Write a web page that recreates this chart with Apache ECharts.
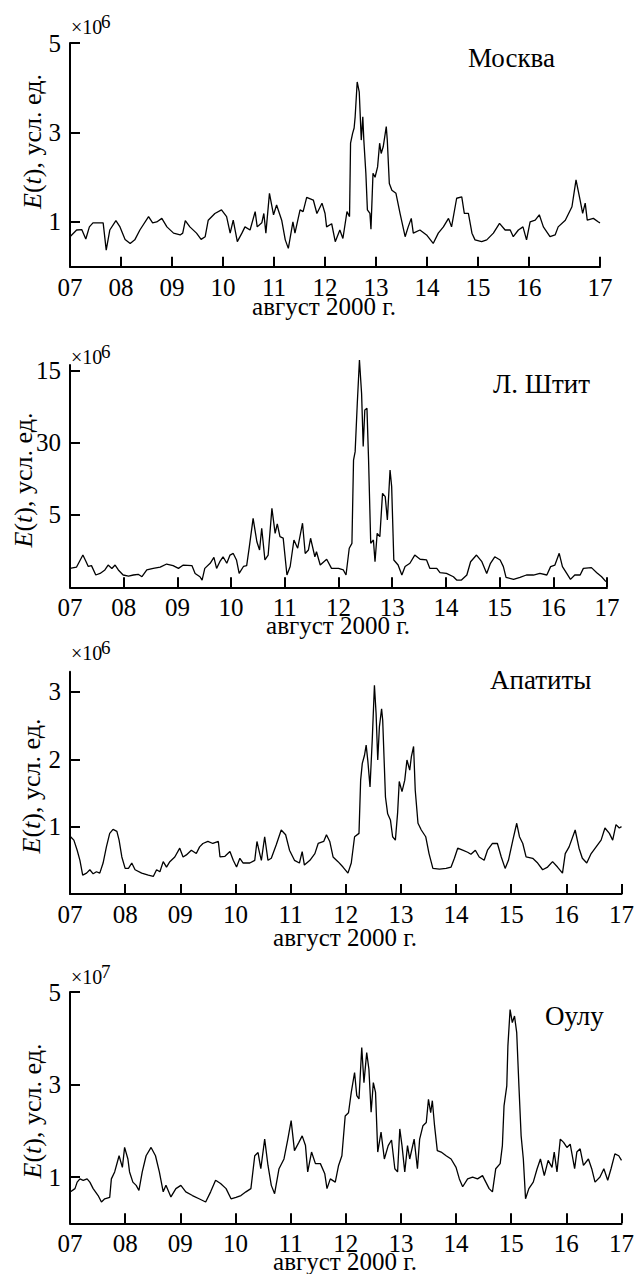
<!DOCTYPE html>
<html><head><meta charset="utf-8">
<script src="https://cdn.jsdelivr.net/npm/echarts@6/dist/echarts.min.js"></script>
<style>html,body{margin:0;padding:0;background:#fff}#c{width:637px;height:1274px}</style>
</head><body><div id="c"></div><script>
// ---------- data ----------
const dayLabels = ['07','08','09','10','11','12','13','14','15','16','17'];
const dayTicks = [7,8,9,10,11,12,13,14,15,16,17];
const moscowDayTicks = [7,8,9,10,11,12,13,14,15,16,17.39];
const xAxisTitle = 'август 2000 г.';
const yAxisTitle = '{i|E}({i|t}), усл. ед.';
const stations = ['Москва','Л. Штит','Апатиты','Оулу'];
const multipliers = ['6','6','6','7'];

const moscowYTicks = [1,3,5];   const moscowYLabels = ['1','3','5'];
const stitYTicks = [5,10,15];   const stitYLabels = ['5','30','15'];
const apatityYTicks = [1,2,3];  const apatityYLabels = ['1','2','3'];
const ouluYTicks = [1,3,5];     const ouluYLabels = ['1','3','5'];

const moscowT = [7.00,7.13,7.23,7.31,7.38,7.45,7.65,7.71,7.78,7.90,7.98,8.08,8.18,8.27,8.37,8.54,8.62,8.70,8.80,8.90,9.03,9.16,9.21,9.26,9.35,9.48,9.57,9.65,9.71,9.84,9.97,10.07,10.14,10.20,10.28,10.37,10.43,10.53,10.63,10.67,10.76,10.80,10.84,10.91,10.99,11.05,11.15,11.22,11.28,11.37,11.41,11.51,11.57,11.64,11.77,11.84,11.94,12.00,12.03,12.13,12.20,12.29,12.35,12.43,12.48,12.50,12.54,12.57,12.59,12.63,12.67,12.71,12.74,12.76,12.80,12.83,12.88,12.90,12.94,12.98,13.03,13.07,13.10,13.14,13.20,13.22,13.26,13.31,13.39,13.47,13.57,13.63,13.69,13.73,13.86,13.99,14.12,14.22,14.32,14.42,14.48,14.58,14.68,14.73,14.81,14.88,14.94,15.07,15.17,15.30,15.42,15.53,15.63,15.69,15.79,15.88,15.95,16.02,16.12,16.20,16.28,16.41,16.51,16.57,16.71,16.84,16.92,17.00,17.05,17.10,17.14,17.26,17.36,17.39];
const moscowV = [0.67,0.82,0.83,0.62,0.89,0.98,0.98,0.37,0.82,1.03,0.89,0.61,0.52,0.60,0.82,1.12,0.98,1.00,1.08,0.89,0.75,0.71,0.75,1.03,0.89,0.75,0.61,0.67,1.04,1.19,1.27,1.12,0.75,1.04,0.56,0.75,0.89,0.82,1.23,0.89,0.98,1.19,0.75,1.64,1.16,1.38,1.04,0.60,0.41,1.00,0.75,1.27,1.23,1.55,1.49,1.19,1.42,1.19,0.89,0.96,0.56,0.82,0.63,1.23,1.12,2.76,2.98,3.10,3.35,4.13,3.91,2.83,3.35,2.83,2.09,1.27,1.19,0.84,2.09,2.00,2.23,2.76,2.53,2.68,3.13,2.83,1.86,1.71,1.64,1.19,0.67,0.89,1.08,0.75,0.82,0.71,0.52,0.75,0.89,1.08,0.89,1.53,1.56,1.19,1.19,0.75,0.60,0.56,0.60,0.75,0.97,0.82,0.82,0.67,0.82,0.89,0.60,1.00,1.04,1.16,0.89,0.67,0.71,0.89,1.04,1.34,1.94,1.49,1.19,1.42,1.04,1.08,1.00,0.98];

const stitT = [7.00,7.12,7.24,7.30,7.34,7.40,7.48,7.56,7.65,7.71,7.78,7.84,7.90,7.99,8.09,8.18,8.27,8.34,8.43,8.55,8.68,8.80,8.92,9.02,9.11,9.27,9.33,9.42,9.46,9.51,9.61,9.68,9.73,9.79,9.85,9.92,9.98,10.04,10.10,10.15,10.23,10.29,10.34,10.41,10.48,10.53,10.57,10.63,10.69,10.76,10.82,10.86,10.91,10.97,11.04,11.10,11.17,11.24,11.33,11.38,11.44,11.48,11.56,11.59,11.66,11.78,11.87,12.00,12.09,12.14,12.20,12.25,12.28,12.31,12.35,12.39,12.43,12.46,12.49,12.53,12.56,12.60,12.65,12.68,12.72,12.77,12.82,12.87,12.91,12.96,12.99,13.03,13.11,13.18,13.24,13.33,13.42,13.52,13.64,13.70,13.83,13.89,14.01,14.14,14.20,14.29,14.39,14.46,14.57,14.67,14.76,14.83,14.91,15.01,15.07,15.12,15.26,15.38,15.50,15.63,15.75,15.88,15.95,16.03,16.11,16.17,16.25,16.32,16.40,16.50,16.56,16.71,16.81,16.90,16.98];
const stitV = [1.31,1.39,2.23,1.77,1.44,1.50,0.85,0.96,1.20,1.54,1.30,1.54,1.20,0.85,0.78,0.85,0.90,0.73,1.20,1.31,1.39,1.61,1.50,1.31,1.54,1.50,0.96,0.73,0.50,1.31,1.66,2.07,1.31,1.77,2.11,1.66,2.23,2.34,1.89,0.96,1.44,1.50,2.81,4.77,3.15,2.58,4.08,1.89,2.23,5.46,3.73,4.38,3.50,3.40,0.85,1.44,3.27,2.70,4.43,2.34,2.58,3.39,2.11,2.46,1.54,1.94,1.31,1.31,1.20,0.85,2.70,3.04,8.80,9.38,12.72,15.72,13.40,9.73,12.26,12.37,8.80,3.04,3.27,1.77,3.73,3.50,6.50,6.27,4.65,8.11,6.96,1.89,1.54,0.85,1.44,1.66,2.23,1.94,1.89,1.31,1.31,1.01,0.96,0.73,0.50,0.50,0.85,1.77,2.23,1.77,0.96,1.66,2.11,1.89,1.43,0.69,0.55,0.69,0.85,0.85,0.96,0.85,1.43,1.54,2.35,1.43,0.96,0.55,0.85,0.85,1.31,1.36,1.01,0.73,0.39];

const apatityT = [7.01,7.07,7.13,7.18,7.23,7.30,7.36,7.42,7.48,7.54,7.60,7.66,7.72,7.78,7.85,7.89,7.94,8.00,8.06,8.12,8.18,8.30,8.42,8.51,8.57,8.63,8.69,8.75,8.81,8.90,8.99,9.05,9.11,9.20,9.29,9.35,9.41,9.50,9.59,9.69,9.72,9.81,9.90,9.96,10.02,10.08,10.14,10.26,10.35,10.39,10.44,10.47,10.53,10.59,10.65,10.74,10.83,10.91,10.98,11.07,11.16,11.21,11.25,11.35,11.44,11.50,11.60,11.65,11.71,11.77,11.86,11.95,12.04,12.10,12.16,12.24,12.27,12.30,12.34,12.37,12.40,12.44,12.48,12.52,12.55,12.58,12.61,12.65,12.67,12.72,12.76,12.81,12.85,12.90,12.94,12.97,13.02,13.07,13.11,13.16,13.19,13.23,13.26,13.31,13.37,13.45,13.51,13.58,13.70,13.82,13.91,13.97,14.03,14.12,14.21,14.27,14.35,14.42,14.51,14.57,14.66,14.75,14.82,14.89,14.95,15.03,15.10,15.15,15.21,15.27,15.39,15.48,15.57,15.66,15.75,15.84,15.93,15.98,16.05,16.16,16.23,16.29,16.37,16.45,16.54,16.63,16.70,16.78,16.84,16.90,16.96,17.00];
const apatityV = [0.85,0.80,0.65,0.50,0.28,0.31,0.36,0.30,0.33,0.31,0.46,0.70,0.90,0.96,0.93,0.80,0.55,0.38,0.38,0.46,0.36,0.31,0.28,0.26,0.36,0.33,0.48,0.40,0.48,0.55,0.68,0.55,0.58,0.65,0.60,0.70,0.75,0.78,0.75,0.78,0.55,0.56,0.63,0.50,0.40,0.53,0.46,0.46,0.50,0.78,0.60,0.50,0.85,0.50,0.53,0.73,0.95,0.88,0.65,0.50,0.46,0.63,0.43,0.50,0.60,0.75,0.78,0.88,0.78,0.55,0.48,0.40,0.31,0.46,0.85,0.90,1.69,1.94,2.06,2.21,1.98,1.59,2.28,3.10,2.68,1.99,2.48,2.75,2.58,1.44,1.19,1.10,0.85,0.80,1.20,1.67,1.52,1.69,1.99,1.84,2.04,2.19,1.54,1.05,0.95,0.85,0.60,0.38,0.37,0.38,0.40,0.53,0.68,0.65,0.62,0.59,0.65,0.55,0.50,0.65,0.75,0.75,0.55,0.38,0.50,0.80,1.05,0.85,0.75,0.55,0.53,0.46,0.36,0.40,0.48,0.40,0.31,0.60,0.70,0.95,0.68,0.53,0.46,0.60,0.70,0.80,0.98,0.90,0.80,1.03,0.98,1.00];

const ouluT = [7.01,7.09,7.13,7.18,7.24,7.31,7.36,7.42,7.51,7.57,7.63,7.72,7.75,7.81,7.89,7.95,7.99,8.05,8.08,8.14,8.20,8.25,8.31,8.38,8.47,8.55,8.62,8.69,8.74,8.83,8.92,9.01,9.10,9.22,9.34,9.46,9.55,9.64,9.73,9.83,9.92,10.01,10.10,10.19,10.28,10.35,10.41,10.46,10.53,10.59,10.65,10.71,10.79,10.88,10.95,11.01,11.07,11.15,11.21,11.27,11.31,11.38,11.45,11.54,11.62,11.66,11.72,11.81,11.87,11.93,11.99,12.05,12.10,12.16,12.20,12.24,12.29,12.33,12.38,12.42,12.46,12.50,12.54,12.58,12.64,12.70,12.77,12.83,12.89,12.94,12.98,13.02,13.07,13.12,13.16,13.24,13.30,13.34,13.40,13.46,13.50,13.54,13.57,13.61,13.66,13.73,13.82,13.91,14.00,14.06,14.12,14.21,14.30,14.39,14.48,14.54,14.60,14.66,14.72,14.80,14.84,14.87,14.92,14.94,14.98,15.02,15.06,15.10,15.14,15.18,15.22,15.26,15.32,15.40,15.47,15.53,15.60,15.67,15.74,15.78,15.83,15.89,15.95,16.01,16.07,16.15,16.19,16.25,16.31,16.40,16.46,16.52,16.61,16.68,16.75,16.81,16.88,16.95,17.00];
const ouluV = [0.68,0.75,0.89,0.96,0.93,0.96,0.89,0.75,0.60,0.46,0.53,0.56,0.96,1.11,1.46,1.21,1.64,1.39,1.11,0.89,0.82,0.71,1.11,1.46,1.64,1.46,1.11,0.68,0.82,0.57,0.75,0.82,0.68,0.60,0.53,0.46,0.68,0.93,0.86,0.75,0.53,0.56,0.60,0.68,0.75,1.46,1.53,1.18,1.82,1.25,0.82,0.64,1.18,1.39,1.82,2.22,1.57,1.75,1.89,1.68,1.11,1.54,1.29,1.29,1.07,0.75,0.96,0.89,1.25,1.46,2.32,2.39,2.83,3.26,2.76,2.69,3.80,3.04,3.69,3.33,2.40,3.04,2.83,1.54,1.97,1.39,1.68,1.80,1.18,1.11,2.04,1.68,1.11,1.68,1.39,1.82,1.18,1.82,2.11,2.18,2.68,2.39,2.65,2.11,1.57,1.54,1.46,1.39,1.21,0.96,0.79,0.96,1.00,0.96,1.03,0.89,0.75,0.68,1.18,1.29,1.68,2.54,2.97,3.83,4.62,4.34,4.48,4.12,2.97,1.89,1.39,0.53,0.75,0.89,1.18,1.39,1.03,1.36,1.21,1.54,1.11,1.82,1.75,1.64,1.71,1.18,1.54,1.61,1.25,1.39,1.18,0.89,1.00,1.18,0.93,1.18,1.50,1.46,1.36];

// ---------- layout ----------
const FONT = '"Liberation Serif", "Times New Roman", serif';
const panels = [
  {t: moscowT, v: moscowV, xTicks: moscowDayTicks, xMax: 17.39, yMax: 5, yT: moscowYTicks, yL: moscowYLabels,
   grid: {left: 70, right: 37, top: 43, height: 223.7},
   name: [468, 57.5], mult: [26.5, 21.5], yName: [32, 141.5], xName: [324, 306]},
  {t: stitT, v: stitV, xTicks: dayTicks, xMax: 17, yMax: 15.37, yT: stitYTicks, yL: stitYLabels,
   grid: {left: 70, right: 30, top: 365, height: 222.3},
   name: [493, 384], mult: [356.5, 351.5], yName: [23, 480], xName: [338, 625]},
  {t: apatityT, v: apatityV, xTicks: dayTicks, xMax: 17, yMax: 3.3, yT: apatityYTicks, yL: apatityYLabels,
   grid: {left: 70, right: 15, top: 671.7, height: 222.3},
   name: [490, 680], mult: [653, 647.5], yName: [31, 786], xName: [345, 937.5]},
  {t: ouluT, v: ouluV, xTicks: dayTicks, xMax: 17, yMax: 5, yT: ouluYTicks, yL: ouluYLabels,
   grid: {left: 70, right: 12, top: 992, height: 231.3},
   name: [545, 1016], mult: [976.7, 971.5], yName: [32, 1111], xName: [345, 1261]}
];

const axisLine = {show: true, lineStyle: {color: '#000', width: 2}};
const grid = [], xAxis = [], yAxis = [], series = [], graphic = [];
panels.forEach((p, i) => {
  grid.push(Object.assign({containLabel: false}, p.grid));
  xAxis.push({
    type: 'value', gridIndex: i, min: 7, max: p.xMax,
    axisLine, splitLine: {show: false},
    axisTick: {show: true, inside: true, length: 10, lineStyle: {color: '#000', width: 2}, customValues: p.xTicks},
    axisLabel: {customValues: p.xTicks, margin: 8, color: '#000', fontFamily: FONT, fontSize: 25,
      formatter: v => { const k = p.xTicks.findIndex(x => Math.abs(x - v) < 1e-6); return k >= 0 ? dayLabels[k] : ''; }}
  });
  yAxis.push({
    type: 'value', gridIndex: i, min: 0, max: p.yMax,
    axisLine, splitLine: {show: false},
    axisTick: {show: true, inside: true, length: 10, lineStyle: {color: '#000', width: 2}, customValues: p.yT},
    axisLabel: {customValues: p.yT, margin: 9, color: '#000', fontFamily: FONT, fontSize: 25,
      formatter: v => { const k = p.yT.findIndex(x => Math.abs(x - v) < 1e-6); return k >= 0 ? p.yL[k] : ''; }}
  });
  series.push({
    type: 'line', xAxisIndex: i, yAxisIndex: i, showSymbol: false, clip: false,
    lineStyle: {color: '#000', width: 1.3}, animation: false,
    data: p.t.map((t, j) => [t, p.v[j]])
  });
  graphic.push({type: 'text', x: p.name[0], y: p.name[1],
    style: {text: stations[i], fontFamily: FONT, fontSize: 27, fill: '#000', align: 'left', verticalAlign: 'middle'}});
  graphic.push({type: 'text', x: 71, y: p.mult[0],
    style: {text: '×10', fontFamily: FONT, fontSize: 20, fill: '#000', align: 'left', verticalAlign: 'middle'}});
  graphic.push({type: 'text', x: 101, y: p.mult[1],
    style: {text: multipliers[i], fontFamily: FONT, fontSize: 19, fill: '#000', align: 'left', verticalAlign: 'middle'}});
  graphic.push({type: 'text', x: p.yName[0], y: p.yName[1], rotation: Math.PI / 2,
    style: {text: yAxisTitle, fontFamily: FONT, fontSize: 26, fill: '#000', align: 'center', verticalAlign: 'middle',
      rich: {i: {fontStyle: 'italic', fontFamily: FONT, fontSize: 26, fill: '#000'}}}});
  graphic.push({type: 'text', x: p.xName[0], y: p.xName[1],
    style: {text: xAxisTitle, fontFamily: FONT, fontSize: 25, fill: '#000', align: 'center', verticalAlign: 'middle'}});
});

const chart = echarts.init(document.getElementById('c'), null, {renderer: 'svg'});
chart.setOption({backgroundColor: '#fff', animation: false, grid, xAxis, yAxis, series, graphic});
</script></body></html>
